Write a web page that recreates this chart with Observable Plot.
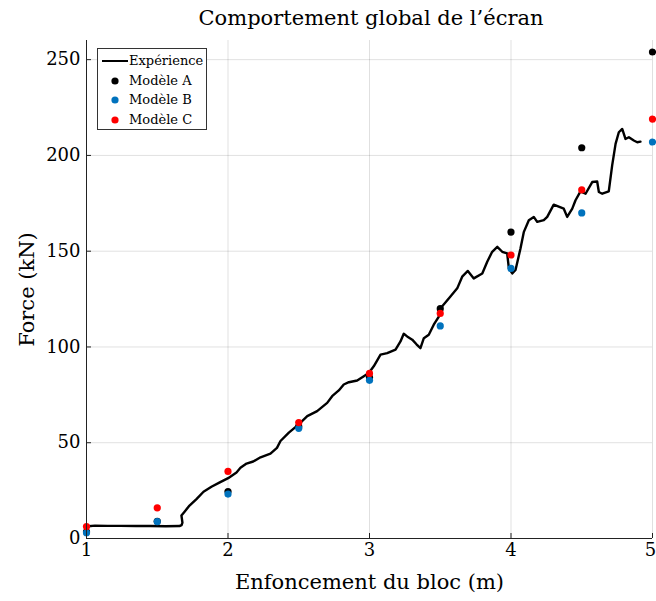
<!DOCTYPE html>
<html>
<head>
<meta charset="utf-8">
<script src="https://cdn.jsdelivr.net/npm/d3@7"></script>
<script src="https://cdn.jsdelivr.net/npm/@observablehq/plot@0.6"></script>
<style>
  body { margin: 0; background: #fff; }
  #wrap { position: relative; width: 656px; height: 601px; font-family: "DejaVu Serif", serif; }
  #title { height: 36px; line-height: 36px; text-align: center; font-size: 21px; color: #000; padding-left: 86px; box-sizing: border-box; white-space: nowrap; }
  #legend { position: absolute; left: 97px; top: 48px; width: 110px; height: 82px; border: 1px solid #333; background: #fff; font-size: 13px; box-sizing: border-box; }
  #legend .row { position: absolute; left: 0; height: 20px; line-height: 20px; }
  #legend .lab { position: absolute; left: 31px; white-space: nowrap; }
</style>
</head>
<body>
<div id="wrap">
  <div id="title">Comportement global de l’écran</div>
  <div id="chart"></div>
  <div id="legend"></div>
</div>
<script>
// ---- data ----
const xTicks = [1, 2, 3, 4, 5];
const yTicks = [0, 50, 100, 150, 200, 250];

const modelX = [1, 1.5, 2, 2.5, 3, 3.5, 4, 4.5, 5];
const modelA = [3.5, 9, 24.5, 58.5, 84, 120, 160, 204, 254];
const modelB = [3, 8.8, 23.2, 57.5, 82.6, 111, 141, 170, 207];
const modelC = [6.2, 16, 35, 60.5, 86.2, 117.5, 148, 182, 219];

const expX = [1.000, 1.014, 1.060, 1.150, 1.240, 1.350, 1.452, 1.560, 1.657, 1.672, 1.678, 1.671, 1.693, 1.728, 1.777,
  1.827, 1.883, 1.942, 2.001, 2.060, 2.088, 2.131, 2.178, 2.230, 2.300, 2.346, 2.371, 2.430, 2.500,
  2.560, 2.630, 2.701, 2.736, 2.783, 2.818, 2.854, 2.913, 2.960, 2.995, 3.030, 3.078, 3.125, 3.184,
  3.219, 3.242, 3.266, 3.302, 3.332, 3.360, 3.384, 3.419, 3.454, 3.490, 3.502, 3.572, 3.620, 3.655,
  3.695, 3.737, 3.797, 3.832, 3.867, 3.903, 3.938, 3.973, 3.985, 4.009, 4.032, 4.067, 4.091, 4.126,
  4.161, 4.185, 4.232, 4.256, 4.302, 4.373, 4.397, 4.433, 4.456, 4.491, 4.527, 4.574, 4.609, 4.621,
  4.645, 4.691, 4.715, 4.739, 4.762, 4.786, 4.809, 4.833, 4.868, 4.892, 4.915];
const expY = [5.8, 6.4, 6.7, 6.6, 6.6, 6.5, 6.5, 6.4, 6.5, 7.0, 8.3, 12.0, 14.0, 17.2, 20.6,
  24.4, 27.0, 29.3, 31.5, 34.5, 36.9, 39.1, 40.2, 42.4, 44.3, 47.3, 50.9, 55.3, 59.6,
  63.9, 66.5, 70.8, 74.3, 77.3, 80.4, 81.6, 82.5, 84.7, 86.4, 89.9, 96.0, 96.8, 98.6,
  102.9, 106.9, 105.5, 103.8, 101.4, 99.4, 104.6, 106.4, 111.6, 115.9, 120.2, 126.3, 130.6, 136.7,
  139.7, 135.8, 138.4, 144.5, 149.7, 152.3, 149.7, 148.8, 141.0, 138.4, 140.2, 151.4, 160.1, 166.2,
  167.9, 165.3, 166.2, 167.9, 174.3, 172.2, 167.9, 172.2, 176.6, 181.2, 180.0, 186.1, 186.4, 180.9,
  180.0, 181.2, 194.8, 206.0, 212.1, 213.8, 208.6, 209.5, 207.8, 206.9, 207.2];

const legendLabels = ["Expérience", "Modèle A", "Modèle B", "Modèle C"];
const colors = ["#000000", "#000000", "#0072BD", "#FF0000"];

// ---- tables ----
const exp = expX.map((x, i) => ({x, y: expY[i]}));
const mk = (vals) => modelX.map((x, i) => ({x, y: vals[i]}));

const W = 656, H = 565;
const mL = 86, mR = 4, mT = 4, mB = 63;
const innerW = W - mL - mR, innerH = H - mT - mB;

const chart = Plot.plot({
  width: W, height: H,
  marginLeft: mL, marginRight: mR, marginTop: mT, marginBottom: mB,
  style: {fontFamily: "DejaVu Serif, serif", fontSize: "18px", color: "#000", background: "#fff"},
  x: {domain: [1, 5]},
  y: {domain: [0, 260]},
  marks: [
    Plot.gridX(xTicks, {stroke: "#000", strokeOpacity: 0.12}),
    Plot.gridY(yTicks, {stroke: "#000", strokeOpacity: 0.12}),
    Plot.axisX(xTicks.slice(0, -1), {tickSize: 0, tickPadding: 5, tickFormat: d => String(d), label: null}),
    Plot.axisX(xTicks.slice(-1), {tickSize: 0, tickPadding: 5, tickFormat: d => String(d), label: null, dx: -2}),
    Plot.axisY({ticks: yTicks, tickSize: 0, tickPadding: 6, tickFormat: d => String(d), label: null}),
    Plot.tickX(xTicks, {x: d => d, insetTop: innerH - 5, stroke: "#222"}),
    Plot.tickY(yTicks, {y: d => d, insetRight: innerW - 5, stroke: "#222"}),
    Plot.line(exp, {x: "x", y: "y", stroke: "#000", strokeWidth: 2.4, strokeLinejoin: "round"}),
    Plot.dot(mk(modelA), {x: "x", y: "y", r: 3.6, fill: colors[1]}),
    Plot.dot(mk(modelB), {x: "x", y: "y", r: 3.6, fill: colors[2]}),
    Plot.dot(mk(modelC), {x: "x", y: "y", r: 3.6, fill: colors[3]}),
    Plot.ruleY([0], {stroke: "#222"}),
    Plot.ruleX([1], {stroke: "#222"}),
    Plot.text(["Enfoncement du bloc (m)"], {frameAnchor: "bottom", dy: 44, fontSize: 21, textAnchor: "middle", lineAnchor: "middle", text: d => d}),
    Plot.text(["Force (kN)"], {frameAnchor: "left", dx: -59, rotate: -90, fontSize: 21, textAnchor: "middle", lineAnchor: "middle", text: d => d})
  ]
});
document.getElementById("chart").appendChild(chart);

// ---- legend ----
const leg = document.getElementById("legend");
legendLabels.forEach((lab, i) => {
  const row = document.createElement("div");
  row.className = "row";
  row.style.top = (2 + i * 19.5) + "px";
  row.style.width = "100%";
  const sym = i === 0
    ? `<svg width="30" height="20" style="position:absolute;left:2px;top:0"><line x1="2" x2="28" y1="10" y2="10" stroke="#000" stroke-width="2"/></svg>`
    : `<svg width="30" height="20" style="position:absolute;left:2px;top:0"><circle cx="15" cy="10" r="3.6" fill="${colors[i]}"/></svg>`;
  row.innerHTML = sym + `<span class="lab">${lab}</span>`;
  leg.appendChild(row);
});
</script>
</body>
</html>
